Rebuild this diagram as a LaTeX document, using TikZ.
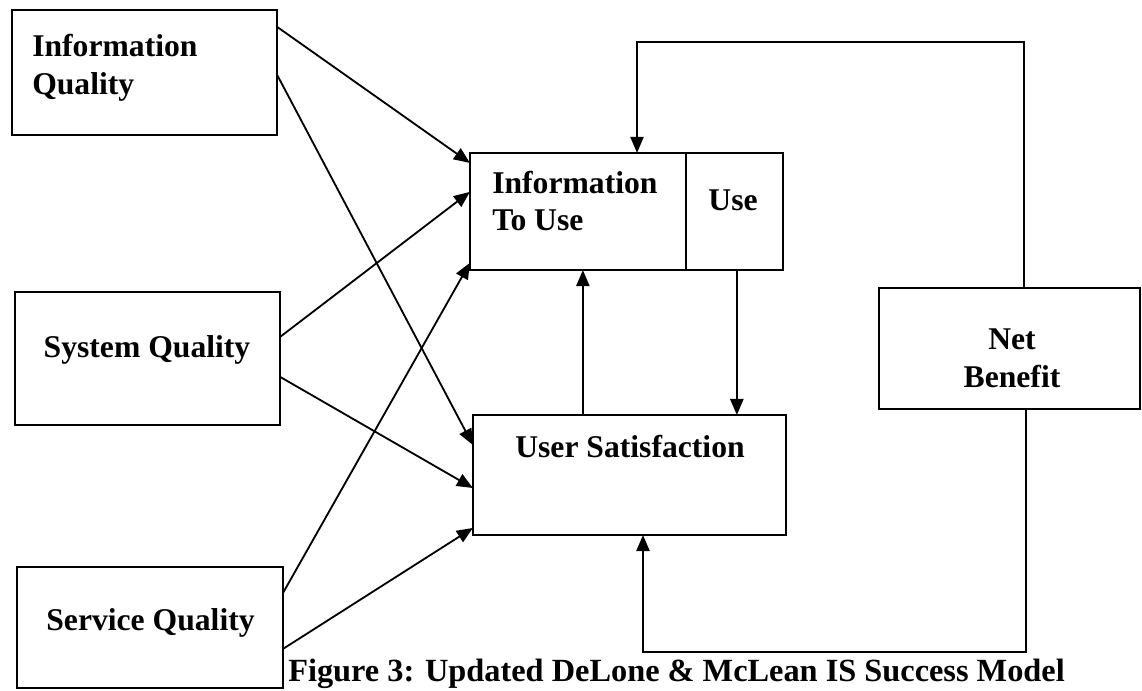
\documentclass[tikz,border=0pt]{standalone}
\usepackage{fontspec}
\setmainfont{Liberation Serif}
\usetikzlibrary{arrows.meta,calc}

\begin{document}
\begin{tikzpicture}[x=0.025cm,y=-0.025cm,
  box/.style={draw,line width=1.3pt,inner sep=0pt,outer sep=0pt},
  lbl/.style={inner sep=0pt,font=\bfseries\fontsize{22.5}{27}\selectfont},
  capt/.style={inner sep=0pt,font=\bfseries\fontsize{23}{28}\selectfont},
  arr/.style={line width=1.3pt,-{Triangle[length=4mm,width=3.3mm]}}]
  \useasboundingbox (0,0) rectangle (1142,690);

  % ---------- Left column: the three quality boxes ----------
  \node[box,minimum width=6.63cm,minimum height=3.13cm] (iq) at (144.5,72.5) {};
  \node[lbl,anchor=base west] (iqa) at (32,57) {Information};
  \node[lbl,anchor=base west] (iqb) at (32,94) {Quality};

  \node[box,minimum width=6.63cm,minimum height=3.33cm] (sq) at (147.5,358.5) {};
  \node[lbl,anchor=base] (sqa) at (147,357) {System Quality};

  \node[box,minimum width=6.65cm,minimum height=3.03cm] (vq) at (150,627.5) {};
  \node[lbl,anchor=base] (vqa) at (150.5,630) {Service Quality};

  % ---------- Middle column: use and satisfaction ----------
  \node[box,minimum width=7.83cm,minimum height=2.93cm] (itu) at (626.5,211.5) {};
  \draw[line width=1.3pt] ($(itu.north west)+(216,0)$) -- ($(itu.south west)+(216,0)$);
  \node[lbl,anchor=base west] (itua) at (492,193) {Information};
  \node[lbl,anchor=base west] (itub) at (492,230) {To Use};
  \node[lbl,anchor=base] (use) at (733,210) {Use};

  \node[box,minimum width=7.83cm,minimum height=3cm] (us) at (629.5,475) {};
  \node[lbl,anchor=base] (usa) at (630,457) {User Satisfaction};

  % ---------- Right: net benefit ----------
  \node[box,minimum width=6.53cm,minimum height=3.03cm] (nb) at (1009.5,348.5) {};
  \node[lbl,anchor=base] (nba) at (1012,349) {Net};
  \node[lbl,anchor=base] (nbb) at (1012,387) {Benefit};

  % quality -> use / satisfaction
  \draw[arr] ($(iq.north east)+(0,17)$) -- ($(itu.north west)+(0,10)$);
  \draw[arr] ($(iq.north east)+(0,65)$) -- ($(us.north west)+(0,30)$);
  \draw[arr] ($(sq.north east)+(0,45)$) -- ($(itu.north west)+(0,39)$);
  \draw[arr] ($(sq.north east)+(0,85)$) -- ($(us.north west)+(0,73)$);
  \draw[arr] ($(vq.north east)+(0,26)$) -- ($(itu.north west)+(0,110)$);
  \draw[arr] ($(vq.north east)+(0,82)$) -- ($(us.north west)+(0,113)$);

  % use <-> satisfaction
  \draw[arr] ($(us.north west)+(110,0)$) coordinate (up) -- (up |- itu.south);
  \draw[arr] ($(itu.south west)+(267,0)$) coordinate (down) -- (down |- us.north);

  % ---------- Feedback loops from net benefit ----------
  \coordinate (fbtop) at (637,42);
  \coordinate (fbbot) at (643,652);
  \draw[arr] ($(nb.north west)+(145,0)$) |- (fbtop) -- (fbtop |- itu.north);
  \draw[arr] ($(nb.south west)+(147,0)$) |- (fbbot) -- (fbbot |- us.south);

  \node[capt,anchor=base west] (caption) at (288,681)
    {Figure 3: Updated DeLone \& McLean IS Success Model};
\end{tikzpicture}
\end{document}
